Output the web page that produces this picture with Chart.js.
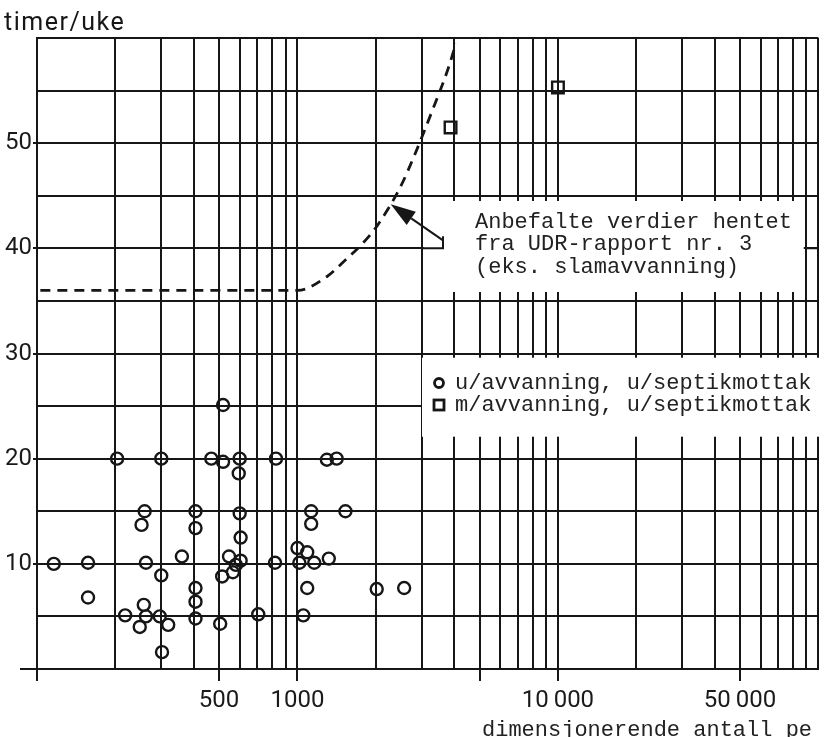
<!DOCTYPE html>
<html>
<head>
<meta charset="utf-8">
<script src="https://cdn.jsdelivr.net/npm/chart.js@4.4.1/dist/chart.umd.min.js"></script>
<style>
  html, body { margin: 0; background: #fff; }
  canvas { display: block; }
</style>
</head>
<body>
<canvas id="chart" width="829" height="737"></canvas>
<script>
// punkter lest av figuren
const circleX = [116,157,157,203,218,259,252,262,257,262,248,300,300,296,319,302,360,406,406,406,406,406,467,518,518,514,505,546,565,580,605,600,595,600,605,707,827,820,1000,1017,1090,1160,1090,1053,1129,1129,1297,1414,1319,1528,2015,2568];
const circleY = [10.0,10.1,6.8,20.0,5.1,15.0,13.7,10.1,6.1,5.0,4.0,20.0,8.9,5.0,4.2,1.6,10.7,15.0,13.4,7.7,6.4,4.8,20.0,25.1,19.7,8.8,4.3,10.7,9.2,9.9,10.3,20.0,18.6,14.8,12.5,5.2,20.0,10.1,11.5,10.1,11.1,10.1,7.7,5.1,15.0,13.8,19.9,20.0,10.5,15.0,7.6,7.7];
const squareX = [3870, 10000];
const squareY = [51.5, 55.3];
// anbefalte verdier (stiplet kurve)
const curveX = [103, 1000, 1295, 1500, 1830, 2030, 2480, 2830, 3270, 3790, 4060];
const curveY = [36.0, 36.0, 37.3, 38.7, 40.8, 42.2, 45.8, 49.0, 52.9, 57.1, 59.5];

const xGridValues = [100,200,300,400,500,600,700,800,900,1000,2000,3000,4000,5000,6000,7000,8000,9000,10000,20000,30000,40000,50000,60000,70000,80000,90000,100000];
const xLabelled = [500, 1000, 10000, 50000];
const xTickMarks = [100, 500, 1000, 5000, 10000, 50000];
const yLabelled = [10, 20, 30, 40, 50];

const legendLabels = ['u/avvanning, u/septikmottak', 'm/avvanning, u/septikmottak'];
const noteLines = ['Anbefalte verdier hentet', 'fra UDR-rapport nr. 3', '(eks. slamavvanning)'];
const yTitle = 'timer/uke';
const xTitle = 'dimensjonerende antall pe';

const ink = '#161616';
const mono = '22px "Liberation Mono", monospace';

function pts(xs, ys) { return xs.map((x, i) => ({ x: x, y: ys[i] })); }
function fmt(v) { return v >= 10000 ? String(v).slice(0, -3) + '\u2009000' : String(v); }

const overlay = {
  id: 'overlay',
  beforeDatasetsDraw(chart) {
    const { ctx, scales: { x, y } } = chart;
    ctx.save();
    // hvite felt for tekst
    ctx.fillStyle = '#fff';
    ctx.fillRect(x.getPixelForValue(3000) + 2, y.getPixelForValue(44.5), 380, 91);
    ctx.fillRect(422, y.getPixelForValue(29.6), 410, 79);

    ctx.strokeStyle = ink;
    ctx.lineWidth = 2;
    const y40 = y.getPixelForValue(40);
    ctx.beginPath();
    ctx.moveTo(x.getPixelForValue(3000), y40); ctx.lineTo(443, y40);
    ctx.moveTo(443, y40 + 1); ctx.lineTo(443, y40 - 12);
    ctx.moveTo(805, y40); ctx.lineTo(chart.chartArea.right, y40);
    ctx.stroke();

    // pil
    const tipX = x.getPixelForValue(2280), tipY = y.getPixelForValue(44.2);
    const tailX = 443, tailY = y40 - 8;
    const a = Math.atan2(tailY - tipY, tailX - tipX);
    const bx = tipX + 25 * Math.cos(a), by = tipY + 25 * Math.sin(a);
    ctx.beginPath();
    ctx.moveTo(bx, by); ctx.lineTo(tailX, tailY);
    ctx.stroke();
    ctx.fillStyle = ink;
    ctx.beginPath();
    ctx.moveTo(tipX, tipY);
    ctx.lineTo(bx + 8 * Math.sin(a), by - 8 * Math.cos(a));
    ctx.lineTo(bx - 8 * Math.sin(a), by + 8 * Math.cos(a));
    ctx.closePath();
    ctx.fill();

    // merknad
    ctx.font = mono;
    ctx.fillStyle = '#222';
    ctx.textBaseline = 'middle';
    noteLines.forEach((t, i) => ctx.fillText(t, 475, 222 + i * 22.5));

    // tegnforklaring
    legendLabels.forEach((t, i) => ctx.fillText(t, 455, 383 + i * 22));
    ctx.strokeStyle = ink;
    ctx.lineWidth = 2.8;
    ctx.beginPath();
    ctx.arc(439, 383, 4.5, 0, Math.PI * 2);
    ctx.stroke();
    ctx.strokeRect(434, 400, 10, 10);
    ctx.restore();
  },
  afterDraw(chart) {
    const { ctx, chartArea, scales: { y } } = chart;
    ctx.save();
    ctx.strokeStyle = ink;
    ctx.lineWidth = 2;
    ctx.beginPath();
    ctx.moveTo(20, y.getPixelForValue(0)); ctx.lineTo(chartArea.left, y.getPixelForValue(0));
    ctx.stroke();
    ctx.fillStyle = '#161616';
    ctx.font = '25px Roboto';
    ctx.letterSpacing = '1.5px';
    ctx.textBaseline = 'alphabetic';
    ctx.fillText(yTitle, 4, 30);
    ctx.letterSpacing = '0px';
    ctx.font = mono;
    ctx.fillStyle = '#222';
    ctx.fillText(xTitle, 482, 736);
    ctx.restore();
  }
};

new Chart(document.getElementById('chart'), {
  type: 'scatter',
  data: {
    datasets: [
      {
        label: legendLabels[0],
        data: pts(circleX, circleY),
        pointStyle: 'circle',
        pointRadius: 6,
        borderWidth: 2.4,
        borderColor: ink,
        backgroundColor: 'rgba(0,0,0,0)'
      },
      {
        label: legendLabels[1],
        data: pts(squareX, squareY),
        pointStyle: 'rect',
        pointRadius: 8.2,
        borderWidth: 2.4,
        borderColor: ink,
        backgroundColor: 'rgba(0,0,0,0)'
      },
      {
        label: 'anbefalt',
        type: 'line',
        data: pts(curveX, curveY),
        borderColor: ink,
        borderWidth: 2.8,
        borderDash: [10, 7],
        pointRadius: 0,
        cubicInterpolationMode: 'monotone',
        fill: false
      }
    ]
  },
  options: {
    responsive: false,
    animation: false,
    layout: { padding: { top: 38, right: 1, left: 0, bottom: 0 } },
    plugins: { legend: { display: false }, tooltip: { enabled: false } },
    scales: {
      x: {
        type: 'logarithmic',
        min: 100,
        max: 100000,
        afterBuildTicks: s => { s.ticks = xGridValues.map(v => ({ value: v })); },
        afterFit: s => { s.height = 68; },
        ticks: {
          autoSkip: false,
          maxRotation: 0,
          padding: 6,
          color: '#1a1a1a',
          font: { family: 'Roboto', size: 24 },
          callback: v => xLabelled.includes(v) ? fmt(v) : ''
        },
        grid: {
          color: ink,
          lineWidth: 2,
          tickLength: 12,
          tickColor: c => (c.tick && xTickMarks.includes(c.tick.value)) ? ink : 'rgba(0,0,0,0)'
        },
        border: { color: ink, width: 2 }
      },
      y: {
        min: 0,
        max: 60,
        afterFit: s => { s.width = 37; },
        ticks: {
          stepSize: 5,
          padding: 1,
          color: '#1a1a1a',
          font: { family: 'Roboto', size: 24 },
          callback: v => yLabelled.includes(v) ? String(v) : ''
        },
        grid: {
          color: ink,
          lineWidth: 2,
          tickLength: 4,
          tickColor: c => (c.tick && yLabelled.includes(c.tick.value)) ? ink : 'rgba(0,0,0,0)'
        },
        border: { color: ink, width: 2 }
      }
    }
  },
  plugins: [overlay]
});
</script>
</body>
</html>
